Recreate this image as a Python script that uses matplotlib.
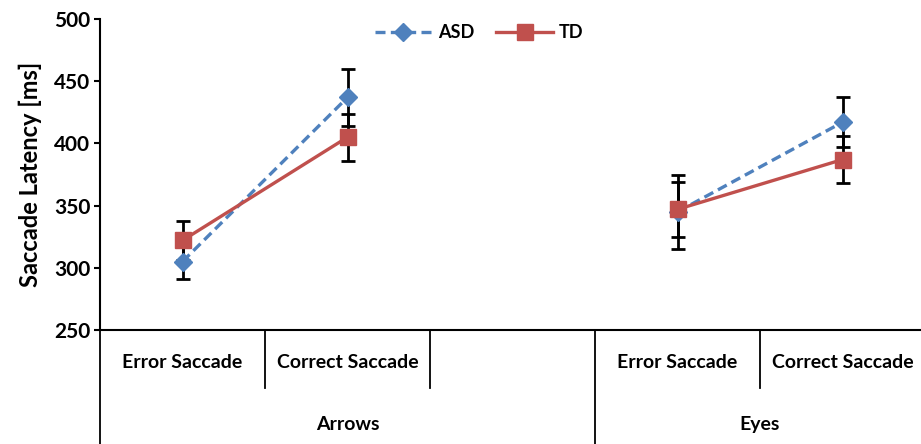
import matplotlib.pyplot as plt
import matplotlib.transforms as mtransforms
import numpy as np

plt.rcParams['font.family'] = ['Lato', 'DejaVu Sans']

# Category slots (the empty slot separates the two groups)
categories = ["Error Saccade", "Correct Saccade", "", "Error Saccade", "Correct Saccade"]
groups = ["Arrows", "Eyes"]
group_spans = [(0, 3), (3, 5)]

# Saccade latency (ms) and error bars, NaN for the empty slot
asd_mean = [305, 437, np.nan, 345, 417]
asd_err = [14, 23, np.nan, 30, 20]
td_mean = [322, 405, np.nan, 347, 387]
td_err = [16, 19, np.nan, 22, 19]

ASD_COLOR = "#4F81BD"
TD_COLOR = "#C0504D"

fig = plt.figure(figsize=(9.21, 4.44), dpi=100)
W, H = 921, 444
ax = fig.add_axes([100 / W, (H - 330) / H, 825 / W, 311 / H])

x = np.arange(len(categories)) + 0.5

ax.errorbar(x, asd_mean, yerr=asd_err, fmt="none", ecolor="black",
            elinewidth=2, capsize=5, capthick=2, zorder=2)
ax.errorbar(x, td_mean, yerr=td_err, fmt="none", ecolor="black",
            elinewidth=2, capsize=5, capthick=2, zorder=2)
ax.plot(x, asd_mean, color=ASD_COLOR, linestyle=(0, (3, 1.6)), linewidth=2.4,
        marker="D", markersize=9, label="ASD", zorder=3)
ax.plot(x, td_mean, color=TD_COLOR, linestyle="-", linewidth=2.4,
        marker="s", markersize=11, label="TD", zorder=3)

ax.set_xlim(0, len(categories))
ax.set_ylim(250, 500)
ax.set_yticks(np.arange(250, 501, 50))
ax.set_xticks([])
for lbl in ax.get_yticklabels():
    lbl.set_fontweight("bold")
ax.tick_params(axis="y", labelsize=15, width=1.5, length=4, pad=3)

ax.spines["top"].set_visible(False)
ax.spines["right"].set_visible(False)
ax.spines["left"].set_linewidth(1.5)
ax.spines["bottom"].set_linewidth(1.5)

ax.set_ylabel("Saccade Latency [ms]", fontsize=17, fontweight="bold")
ax.yaxis.set_label_coords(-58 / 825, 0.5)

# multi-level category axis drawn below the plot
trans = mtransforms.blended_transform_factory(ax.transData, ax.transAxes)
short_len = -58 / 311
long_len = -120 / 311
long_at = [s for s, e in group_spans] + [group_spans[-1][1]]
for i in range(len(categories) + 1):
    bottom = long_len if i in long_at else short_len
    ax.plot([i, i], [0, bottom], color="black", linewidth=1.3,
            transform=trans, clip_on=False)

for xi, name in zip(x, categories):
    ax.text(xi, -32 / 311, name, transform=trans, ha="center", va="center",
            fontsize=14, fontweight="bold")
for name, (s, e) in zip(groups, group_spans):
    ax.text((s + e) / 2, -94 / 311, name, transform=trans, ha="center",
            va="center", fontsize=14, fontweight="bold")

ax.legend(loc="upper center", bbox_to_anchor=(379 / 825, 1.035),
          ncol=2, frameon=False, handlelength=3.2, handletextpad=0.3,
          columnspacing=1.2, prop={"weight": "bold", "size": 13})

fig.savefig("out.png", dpi=100)
